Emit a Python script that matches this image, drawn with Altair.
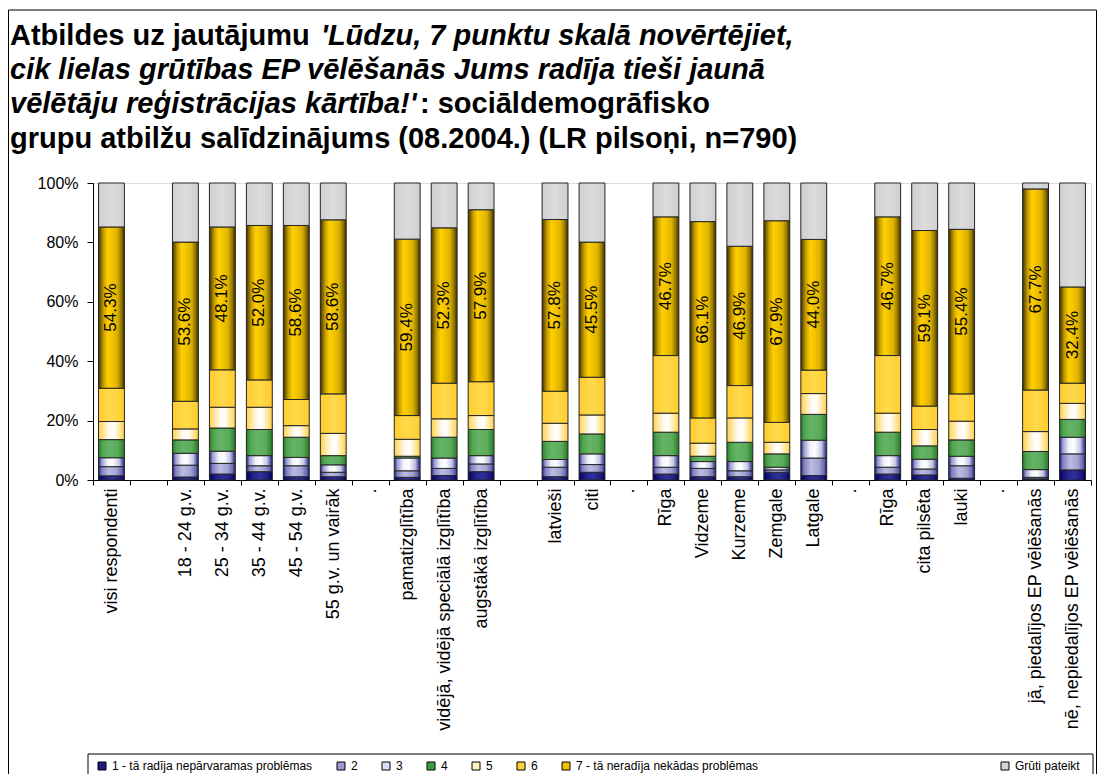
import json
import altair as alt
import pandas as pd

FONT = "Liberation Sans"

# ---------------- data ----------------
slot_labels = [
    "visi respondenti", "", "18 - 24 g.v.", "25 - 34 g.v.", "35 - 44 g.v.",
    "45 - 54 g.v.", "55 g.v. un vairāk", ".", "pamatizglītība",
    "vidējā, vidējā speciālā izglītība", "augstākā izglītība", "", "latvieši",
    "citi", ".", "Rīga", "Vidzeme", "Kurzeme", "Zemgale", "Latgale", ".",
    "Rīga", "cita pilsēta", "lauki", ".", "jā, piedalījos EP vēlēšanās",
    "nē, nepiedalījos EP vēlēšanās",
]
bar_slots = [0, 2, 3, 4, 5, 6, 8, 9, 10, 12, 13, 15, 16, 17, 18, 19, 21, 22, 23, 25, 26]

series_names = [
    "1 - tā radīja nepārvaramas problēmas", "2", "3", "4", "5", "6",
    "7 - tā neradīja nekādas problēmas", "Grūti pateikt",
]
s1 = [1.4, 1.0, 2.0, 2.8, 1.1, 1.1, 0.9, 1.5, 2.8, 1.1, 2.6, 2.0, 1.1, 1.1, 2.6, 1.5, 2.0, 1.7, 0.6, 0.4, 3.4]
s2 = [3.1, 4.0, 3.6, 2.0, 3.7, 1.5, 2.2, 2.4, 2.6, 3.2, 2.6, 2.3, 2.8, 2.0, 0.8, 5.9, 2.3, 2.0, 4.2, 0.5, 5.4]
s3 = [3.0, 4.0, 4.1, 3.4, 2.8, 2.5, 4.3, 3.5, 2.8, 2.6, 3.6, 3.9, 2.3, 3.1, 0.9, 6.0, 3.9, 3.3, 3.2, 2.6, 5.6]
s4 = [6.1, 4.5, 7.8, 8.8, 6.8, 3.1, 0.6, 7.0, 8.8, 6.1, 6.7, 7.9, 1.8, 6.5, 4.5, 8.7, 7.9, 4.5, 5.5, 6.1, 6.0]
s5 = [6.1, 3.7, 7.0, 7.5, 3.9, 7.5, 5.7, 6.2, 4.7, 6.1, 6.4, 6.4, 4.4, 8.2, 3.9, 7.0, 6.4, 5.5, 6.3, 6.7, 5.4]
s6 = [11.2, 9.3, 12.6, 9.2, 8.8, 13.3, 8.0, 12.0, 11.4, 10.8, 12.7, 19.4, 8.5, 10.9, 6.7, 7.9, 19.4, 7.9, 9.2, 14.0, 6.8]
s7 = [54.3, 53.6, 48.1, 52.0, 58.6, 58.6, 59.4, 52.3, 57.9, 57.8, 45.5, 46.7, 66.1, 46.9, 67.9, 44.0, 46.7, 59.1, 55.4, 67.7, 32.4]
s8 = [14.8, 19.9, 14.8, 14.3, 14.3, 12.4, 18.9, 15.1, 9.0, 12.3, 19.9, 11.4, 13.0, 21.3, 12.7, 19.0, 11.4, 16.0, 15.6, 2.0, 35.0]
series_values = [s1, s2, s3, s4, s5, s6, s7, s8]

solid_colors = ["#1a1a80", "#9999cc", "#dcdcf4", "#3f9f3f", "#fff3c4", "#ffd23a", "#f2c200", "#d4d4d4"]

rows = []
for i, slot in enumerate(bar_slots):
    for k, (name, vals) in enumerate(zip(series_names, series_values)):
        rows.append({"slot": slot, "series": name, "order": k, "value": vals[i]})
df = pd.DataFrame(rows)

# gradient fills imitating the cylinder-like Excel fills
def grad(stops):
    return alt.LinearGradient(
        gradient="linear", x1=0, x2=1, y1=0, y2=0,
        stops=[alt.GradientStop(offset=o, color=c) for o, c in stops],
    )

gradients = [
    grad([(0, "#000060"), (0.3, "#24248f"), (0.55, "#30309a"), (0.85, "#1a1a80"), (1, "#000050")]),
    grad([(0, "#1a1a78"), (0.12, "#7f7fbf"), (0.4, "#bcbce2"), (0.7, "#a3a3d3"), (0.9, "#6a6aae"), (1, "#14146e")]),
    grad([(0, "#1c1c7c"), (0.12, "#9a9ad0"), (0.35, "#f2f2fb"), (0.55, "#ffffff"), (0.8, "#c4c4e4"), (1, "#1c1c7c")]),
    grad([(0, "#2a7a2a"), (0.15, "#4fa64f"), (0.4, "#66b466"), (0.75, "#5aab5a"), (1, "#2a7a2a")]),
    grad([(0, "#ffcf40"), (0.18, "#ffe49a"), (0.42, "#fffaf0"), (0.58, "#ffffff"), (0.82, "#ffe6a0"), (1, "#ffcf40")]),
    grad([(0, "#ffcc2e"), (0.5, "#ffda4c"), (1, "#ffcc2e")]),
    grad([(0, "#3a2e00"), (0.08, "#7a6000"), (0.2, "#c9a000"), (0.36, "#ffcf00"), (0.5, "#f5c500"), (0.72, "#ddb200"), (0.88, "#957600"), (1, "#3a2e00")]),
    grad([(0, "#cfcfcf"), (0.5, "#dcdcdc"), (1, "#cfcfcf")]),
]

label_expr = "%s[datum.value]" % json.dumps(slot_labels, ensure_ascii=False)

x_enc = alt.X(
    "slot:O",
    title=None,
    scale=alt.Scale(domain=list(range(len(slot_labels))), paddingInner=0, paddingOuter=0),
    axis=alt.Axis(
        labelExpr=label_expr, labelAngle=-90, labelFont=FONT, labelFontSize=18,
        labelColor="black", labelPadding=3, labelLimit=400, labelOverlap=False,
        tickBand="extent", tickSize=5, tickColor="black", domainColor="black",
        grid=False,
    ),
)
y_axis = alt.Axis(
    values=[0, 20, 40, 60, 80, 100], labelExpr="datum.value + '%'",
    labelFont=FONT, labelFontSize=16, labelColor="black", labelPadding=9,
    tickSize=6, tickColor="black", domainColor="black", grid=False,
)
y_scale = alt.Scale(domain=[0, 100], nice=False)

base = alt.Chart(df).transform_stack(
    stack="value", groupby=["slot"], as_=["y0", "y1"],
    sort=[alt.SortField("order", order="ascending")],
)
BW = alt.RelativeBandSize(0.7)

legend_common = dict(
    orient="none", direction="horizontal", title=None, symbolType="square",
    symbolSize=64, symbolStrokeColor="black", symbolStrokeWidth=1,
    labelFont=FONT, labelFontSize=12, labelColor="black", labelLimit=400,
    columnPadding=22, labelOffset=4,
)

solid = base.transform_filter(alt.datum.order < 7).mark_bar(width=BW).encode(
    x=x_enc,
    y=alt.Y("y0:Q", title=None, scale=y_scale, axis=y_axis),
    y2="y1:Q",
    color=alt.Color(
        "series:N",
        scale=alt.Scale(domain=series_names[:7], range=solid_colors[:7]),
        legend=alt.Legend(legendX=3, legendY=577, **legend_common),
    ),
)
grey = base.transform_filter(alt.datum.order == 7).mark_bar(width=BW).encode(
    x=x_enc,
    y=alt.Y("y0:Q", title=None, scale=y_scale, axis=y_axis),
    y2="y1:Q",
    color=alt.Color(
        "series:N",
        scale=alt.Scale(domain=series_names[7:], range=solid_colors[7:]),
        legend=alt.Legend(legendX=906, legendY=577, **legend_common),
    ),
)

grad_layers = []
for k in range(8):
    grad_layers.append(
        base.transform_filter(alt.datum.order == k)
        .mark_bar(width=BW, fill=gradients[k], stroke="#262626", strokeWidth=1)
        .encode(
            x=x_enc,
            y=alt.Y("y0:Q", title=None, scale=y_scale, axis=y_axis),
            y2="y1:Q",
        )
    )

labels = (
    base.transform_filter(alt.datum.order == 6)
    .transform_calculate(mid="(datum.y0 + datum.y1) / 2",
                         lab="format(datum.value, '.1f') + '%'")
    .mark_text(angle=270, font=FONT, fontSize=17, color="black")
    .encode(
        x=x_enc,
        y=alt.Y("mid:Q", title=None, scale=y_scale, axis=y_axis),
        text="lab:N",
    )
)

one = pd.DataFrame({"a": [0]})
frame = alt.Chart(one).mark_rect(fillOpacity=0, stroke="black", strokeWidth=1).encode(
    x=alt.value(-84.5), x2=alt.value(1003.5), y=alt.value(-173), y2=alt.value(700)
)
legend_box = alt.Chart(one).mark_rect(fillOpacity=0, stroke="black", strokeWidth=1).encode(
    x=alt.value(-5), x2=alt.value(1000), y=alt.value(571), y2=alt.value(595)
)

title_parts = [
    ("Atbildes uz jautājumu ", "normal", -83, -138),
    ("'Lūdzu, 7 punktu skalā novērtējiet,", "italic", 228, -138),
    ("cik lielas grūtības EP vēlēšanās Jums radīja tieši jaunā", "italic", -83, -104),
    ("vēlētāju reģistrācijas kārtība!'", "italic", -83, -70),
    (": sociāldemogrāfisko", "normal", 327, -70),
    ("grupu atbilžu salīdzinājums (08.2004.) (LR pilsoņi, n=790)", "normal", -83, -35),
]
title_layers = []
for txt, style, tx, ty in title_parts:
    title_layers.append(
        alt.Chart(pd.DataFrame({"t": [txt]})).mark_text(
            font=FONT, fontSize=29, fontWeight="bold", fontStyle=style,
            align="left", baseline="alphabetic", color="black",
        ).encode(text="t:N", x=alt.value(tx), y=alt.value(ty))
    )

chart = (
    alt.layer(solid, grey, *grad_layers, labels, frame, legend_box, *title_layers)
    .resolve_scale(color="independent")
    .properties(
        width=998, height=297,
        padding={"left": 85, "top": 175, "right": 6, "bottom": 294},
        autosize=alt.AutoSizeParams(type="none"),
    )
    .configure_view(stroke="#808080", strokeWidth=1)
    .configure(background="white")
)

chart.save("out.html", embed_options={"renderer": "svg", "actions": False})
